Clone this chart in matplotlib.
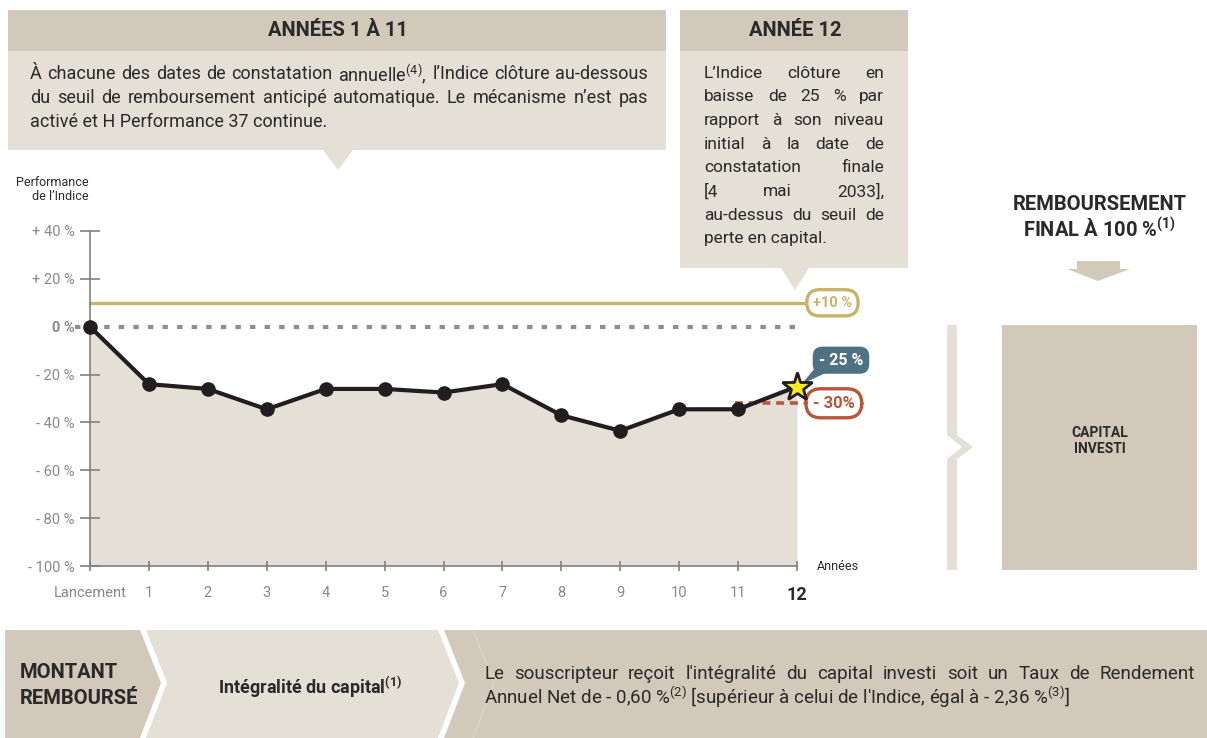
import matplotlib
matplotlib.use("Agg")
import matplotlib.pyplot as plt
from matplotlib import font_manager
from matplotlib.patches import Polygon, Rectangle

# font: a narrow sans if there is one, else Roboto
names = {f.name for f in font_manager.fontManager.ttflist}
FONT = "Liberation Sans Narrow" if "Liberation Sans Narrow" in names else "Roboto"
plt.rcParams["font.family"] = [FONT, "DejaVu Sans"]
plt.rcParams["mathtext.default"] = "regular"

# data
years = [0, 1, 2, 3, 4, 5, 6, 7, 8, 9, 10, 11, 12]
perf = [0, -24, -26, -34.5, -26, -26, -27.5, -24, -37, -43.5, -34.5, -34.5, -25]
year_labels = ["Lancement", "1", "2", "3", "4", "5", "6", "7", "8", "9", "10", "11", "12"]
y_ticks = [40, 20, 0, -20, -40, -60, -80, -100]
y_labels = ["+ 40 %", "+ 20 %", "0 %", "- 20 %", "- 40 %", "- 60 %", "- 80 %", "- 100 %"]
autocall_level = 10
loss_barrier = -32
final_perf = -25

DARK = "#d2c9ba"
LIGHT = "#e4e0d6"
TXT = "#2a2a2a"
GREY = "#888888"
GOLD = "#c9b26c"
RUST = "#b9553a"
SLATE = "#4f7184"

fig = plt.figure(figsize=(12.07, 7.38), dpi=100)

# overlay in pixel units for the panels around the chart
ov = fig.add_axes([0, 0, 1, 1], zorder=0)
ov.set_xlim(0, 1207)
ov.set_ylim(738, 0)
ov.axis("off")

def poly(pts, color, **kw):
    ov.add_patch(Polygon(pts, closed=True, fc=color, ec="none", **kw))

# top boxes
ov.add_patch(Rectangle((8, 10), 658, 41, fc=DARK, ec="none"))
ov.add_patch(Rectangle((8, 51), 658, 99, fc=LIGHT, ec="none"))
poly([(323, 150), (353, 150), (338, 170)], LIGHT)
ov.add_patch(Rectangle((680, 10), 228, 41, fc=DARK, ec="none"))
ov.add_patch(Rectangle((680, 51), 228, 217, fc=LIGHT, ec="none"))
poly([(781, 268), (809, 268), (795, 290)], LIGHT)

ov.text(338, 31, "ANNÉES 1 À 11", ha="center", va="center", fontsize=14.5,
        fontweight="bold", color=TXT)
ov.text(795, 31, "ANNÉE 12", ha="center", va="center", fontsize=14.5,
        fontweight="bold", color=TXT)

lines = []  # (text objects, x0, x1, justify)

def add_line(s, x0, x1, y, just=True, size=12.5):
    if just:
        ts = [ov.text(x0, y, w, ha="left", va="center", fontsize=size, color=TXT)
              for w in s.split(" ")]
    else:
        ts = [ov.text(x0, y, s, ha="left", va="center", fontsize=size, color=TXT)]
    lines.append((ts, x0, x1, just))

add_line("À chacune des dates de constatation annuelle$^{(4)}$, l’Indice clôture au-dessous",
         30, 648, 74, size=13)
add_line("du seuil de remboursement anticipé automatique. Le mécanisme n’est pas",
         30, 648, 98, size=13)
add_line("activé et H Performance 37 continue.", 30, 648, 122, just=False, size=13)

box2 = ["L’Indice clôture en", "baisse de 25 % par", "rapport à son niveau",
        "initial à la date de", "constatation finale", "[4 mai 2033],",
        "au-dessus du seuil de", "perte en capital."]
for i, s in enumerate(box2):
    add_line(s, 704, 884, 73 + i * 23.7, just=(i < len(box2) - 1))

# right panel
ov.text(1100, 204, "REMBOURSEMENT", ha="center", va="center", fontsize=14.5,
        fontweight="bold", color=TXT)
ov.text(1100, 229, "FINAL À 100 %$^{(1)}$", ha="center", va="center", fontsize=14.5,
        fontweight="bold", color=TXT)
poly([(1077, 261), (1120, 261), (1120, 269), (1130, 269), (1098, 281),
      (1067, 269), (1077, 269)], DARK)
poly([(947, 325), (957, 325), (957, 435), (973, 447), (957, 459), (957, 570),
      (947, 570), (947, 459), (962, 447), (947, 435)], LIGHT)
ov.add_patch(Rectangle((1002, 325), 195, 245, fc=DARK, ec="none"))
ov.text(1100, 441, "CAPITAL\nINVESTI", ha="center", va="center", fontsize=10,
        fontweight="bold", color=TXT, linespacing=1.1)

# bottom band
poly([(5, 630), (140, 630), (161, 683), (140, 738), (5, 738)], DARK)
poly([(146, 630), (438, 630), (459, 683), (438, 738), (146, 738), (167, 683)], LIGHT)
poly([(444, 630), (1207, 630), (1207, 738), (444, 738), (465, 683)], DARK)
ov.plot([473, 494, 473], [630, 683, 738], color="#e4ddd0", lw=0.6)
ov.text(20, 672, "MONTANT", ha="left", va="center", fontsize=14.5,
        fontweight="bold", color=TXT)
ov.text(20, 698, "REMBOURSÉ", ha="left", va="center", fontsize=14.5,
        fontweight="bold", color=TXT)
ov.text(310, 687, "Intégralité du capital$^{(1)}$", ha="center", va="center",
        fontsize=13, fontweight="bold", color=TXT)
add_line("Le souscripteur reçoit l'intégralité du capital investi soit un Taux de Rendement",
         484, 1195, 674, size=13.5)
add_line("Annuel Net de - 0,60 %$^{(2)}$ [supérieur à celui de l'Indice, égal à - 2,36 %$^{(3)}$]",
         484, 1195, 697, just=False, size=13.5)

ov.text(89, 182, "Performance", ha="right", va="center", fontsize=9, color=TXT)
ov.text(89, 196, "de l’Indice", ha="right", va="center", fontsize=9, color=TXT)

# chart
ax = fig.add_axes([90 / 1207, (738 - 566) / 738, 707 / 1207, 335 / 738], zorder=1)
ax.patch.set_visible(False)
ax.set_xlim(0, 12)
ax.set_ylim(-100, 40)
for s in ["top", "right"]:
    ax.spines[s].set_visible(False)
for s in ["left", "bottom"]:
    ax.spines[s].set_color("#808080")
    ax.spines[s].set_linewidth(1.2)

ax.set_yticks(y_ticks)
ax.set_yticklabels(y_labels)
ax.tick_params(axis="y", direction="inout", length=14, width=1.2, color="#808080",
               labelsize=10.5, labelcolor=GREY, pad=4)
ax.set_xticks(years)
ax.set_xticklabels(year_labels)
ax.tick_params(axis="x", direction="inout", length=7, width=1.2, color="#808080",
               labelsize=10.5, labelcolor=GREY, pad=11)
for t in ax.get_yticklabels():
    if t.get_text() == "0 %":
        t.set_fontweight("bold")
for tk, v in zip(ax.yaxis.get_major_ticks(), y_ticks):
    if v == 0:
        tk.tick1line.set_visible(False)
xl = ax.get_xticklabels()
xl[-1].set_fontweight("bold")
xl[-1].set_color(TXT)
xl[-1].set_fontsize(13)

ax.fill_between(years, perf, -100, color=LIGHT, lw=0, zorder=1)
ax.plot([0, 12.15], [autocall_level] * 2, color=GOLD, lw=2.4, zorder=2, clip_on=False)
ax.plot([-0.25, 12], [0, 0], color="#8f8f8f", lw=3, ls=(0, (1.3, 2.2)),
        zorder=2, clip_on=False)
ax.plot([10.95, 12.15], [loss_barrier] * 2, color=RUST, lw=2.6, ls=(0, (2.2, 1.6)),
        zorder=2, clip_on=False)
ax.plot(years, perf, color="#221e1f", lw=3, marker="o", ms=9.5, zorder=3, clip_on=False)
ax.plot(years[-1], final_perf, marker="*", ms=22, mfc="#f6ea22", mec="#221e1f",
        mew=2, zorder=5, clip_on=False)

ax.text(12.33, -100, "Années", ha="left", va="center", fontsize=9, color=TXT)

pill = "round,pad=0.42,rounding_size=0.9"
ax.text(12.27, autocall_level, "+10 %", ha="left", va="center", fontsize=10.5,
        fontweight="bold", color=GOLD, zorder=4, clip_on=False,
        bbox=dict(boxstyle=pill, fc="white", ec=GOLD, lw=2.4))
ax.text(12.27, loss_barrier, "- 30%", ha="left", va="center", fontsize=12,
        fontweight="bold", color=RUST, zorder=4, clip_on=False,
        bbox=dict(boxstyle=pill, fc="white", ec=RUST, lw=2.4))
ax.annotate("- 25 %", xy=(12.08, final_perf + 1), xytext=(12.37, final_perf + 11),
            ha="left", va="center", fontsize=11.5, fontweight="bold", color="white",
            zorder=4, annotation_clip=False,
            bbox=dict(boxstyle="round,pad=0.38,rounding_size=0.6", fc=SLATE, ec="none"),
            arrowprops=dict(arrowstyle="wedge,tail_width=0.9,shrink_factor=0.5",
                            fc=SLATE, ec="none", relpos=(0.18, 0.2),
                            patchA=None, shrinkA=0, shrinkB=0))

# justify text lines now that sizes are known
fig.canvas.draw()
r = fig.canvas.get_renderer()
for ts, x0, x1, just in lines:
    if not just or len(ts) < 2:
        continue
    ws = [t.get_window_extent(r).width for t in ts]
    gap = (x1 - x0 - sum(ws)) / (len(ts) - 1)
    x = x0
    for t, w in zip(ts, ws):
        t.set_x(x)
        x += w + gap

fig.savefig("out.png", dpi=100)
